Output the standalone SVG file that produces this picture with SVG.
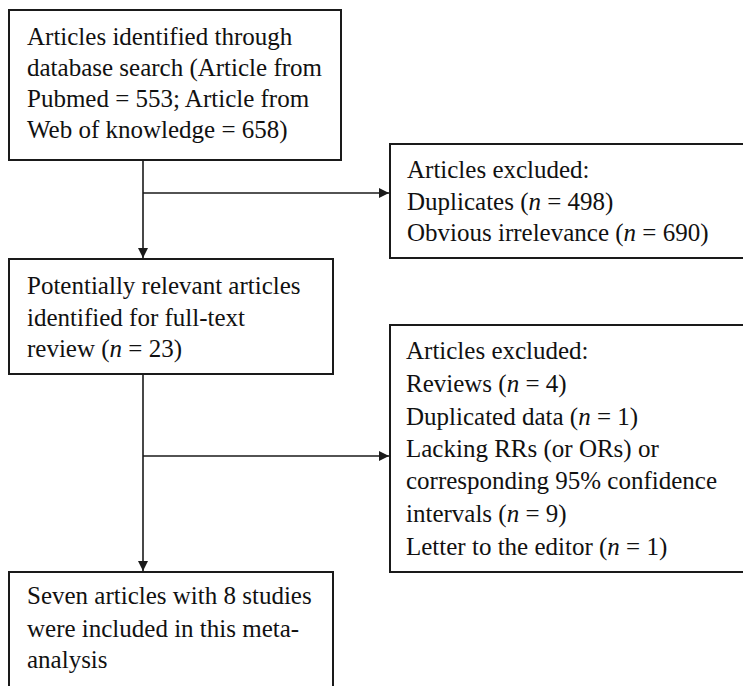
<svg xmlns="http://www.w3.org/2000/svg" width="743" height="686" viewBox="0 0 743 686">
<defs>
<style>
.box{fill:#fff;stroke:#1a1a1a;stroke-width:2}
.t{font-family:'Liberation Serif','Times New Roman','DejaVu Serif',serif;font-size:25px;fill:#111}
.ln{stroke:#1a1a1a;stroke-width:1.6;fill:none}
</style>
<marker id="ah" viewBox="0 0 10 10" refX="10" refY="5" markerWidth="10" markerHeight="10" markerUnits="userSpaceOnUse" orient="auto">
<path d="M0,0 L10,5 L0,10 z" fill="#1a1a1a"/>
</marker>
</defs>
<rect width="743" height="686" fill="#fff"/>
<g id="connectors">
<line class="ln" x1="143" y1="160" x2="143" y2="258" marker-end="url(#ah)"/>
<line class="ln" x1="143" y1="193" x2="389" y2="193" marker-end="url(#ah)"/>
<line class="ln" x1="143" y1="374" x2="143" y2="571" marker-end="url(#ah)"/>
<line class="ln" x1="143" y1="456" x2="389" y2="456" marker-end="url(#ah)"/>
</g>
<g font-family="Liberation Serif, Times New Roman, serif" font-size="25" fill="#111">
<g id="n1">
<rect class="box" x="9" y="10" width="332" height="150"/>
<text class="t" x="27" y="45">Articles identified through</text>
<text class="t" x="27" y="76">database search (Article from</text>
<text class="t" x="27" y="107">Pubmed = 553; Article from</text>
<text class="t" x="27" y="138">Web of knowledge = 658)</text>
</g>
<g id="n2">
<rect class="box" x="390" y="144" width="380" height="114"/>
<text class="t" x="407" y="178">Articles excluded:</text>
<text class="t" x="407" y="210">Duplicates (<tspan font-style="italic">n</tspan> = 498)</text>
<text class="t" x="407" y="241">Obvious irrelevance (<tspan font-style="italic">n</tspan> = 690)</text>
</g>
<g id="n3">
<rect class="box" x="9" y="259" width="324" height="115"/>
<text class="t" x="27" y="294">Potentially relevant articles</text>
<text class="t" x="27" y="326">identified for full-text</text>
<text class="t" x="27" y="357">review (<tspan font-style="italic">n</tspan> = 23)</text>
</g>
<g id="n4">
<rect class="box" x="390" y="325" width="380" height="247"/>
<text class="t" x="406" y="359">Articles excluded:</text>
<text class="t" x="406" y="392">Reviews (<tspan font-style="italic">n</tspan> = 4)</text>
<text class="t" x="406" y="425">Duplicated data (<tspan font-style="italic">n</tspan> = 1)</text>
<text class="t" x="406" y="457">Lacking RRs (or ORs) or</text>
<text class="t" x="406" y="489">corresponding 95% confidence</text>
<text class="t" x="406" y="522">intervals (<tspan font-style="italic">n</tspan> = 9)</text>
<text class="t" x="406" y="555">Letter to the editor (<tspan font-style="italic">n</tspan> = 1)</text>
</g>
<g id="n5">
<rect class="box" x="9" y="572" width="324" height="140"/>
<text class="t" x="27" y="604">Seven articles with 8 studies</text>
<text class="t" x="27" y="637">were included in this meta-</text>
<text class="t" x="27" y="668">analysis</text>
</g>
</g>
</svg>
